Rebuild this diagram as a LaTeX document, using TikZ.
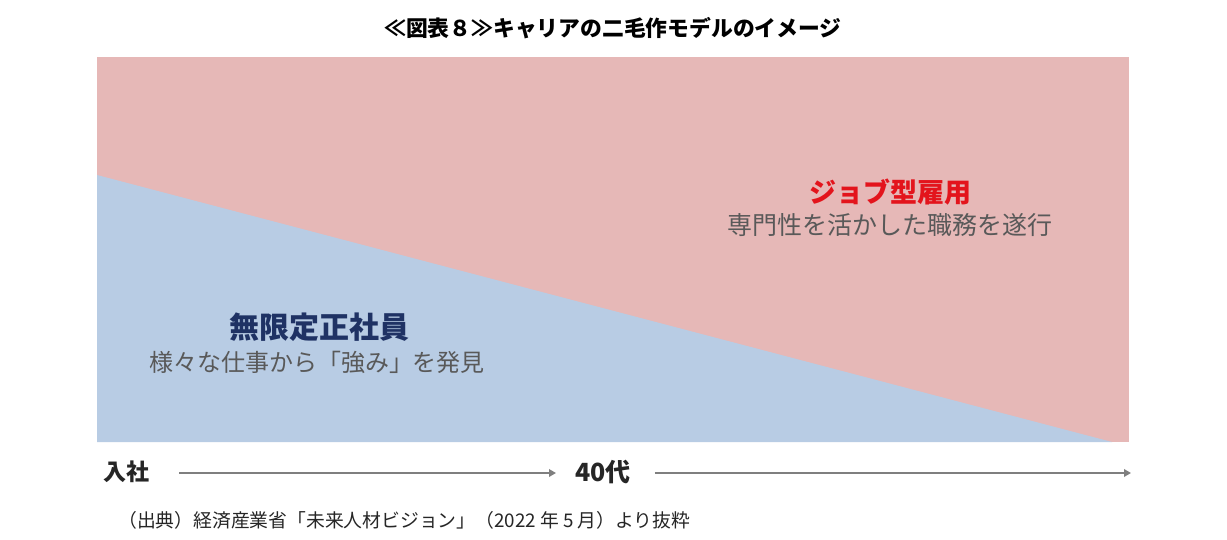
\documentclass[tikz,border=0pt]{standalone}
\usepackage{fontspec}
\setmainfont{Noto Sans CJK JP}
\usetikzlibrary{arrows.meta}
\definecolor{pinkbg}{HTML}{E6B8B7}
\definecolor{bluebg}{HTML}{B8CCE4}
\definecolor{jobred}{HTML}{E3141C}
\definecolor{navy}{HTML}{1F3264}
\definecolor{subgray}{HTML}{595959}
\definecolor{axgray}{HTML}{7F7F7F}
\tikzset{
  lbl/.style={inner sep=0pt, anchor=center},
  axlbl/.style={inner sep=0pt, font=\fontsize{23}{27}\selectfont\bfseries, text=black!85},
  axarrow/.style={draw=axgray, line width=2.8pt, -{Triangle[length=7pt,width=7.5pt]}}
}
\begin{document}
\begin{tikzpicture}[x=1pt,y=-1pt]
\useasboundingbox (0,0) rectangle (1227,540);
\fill[white] (0,0) rectangle (1227,540);
\node[lbl, font=\fontsize{21.8}{26}\selectfont\bfseries] (title) at (613,28) {≪図表８≫キャリアの二毛作モデルのイメージ};
\fill[pinkbg] (97,57) rectangle (1129,442);
\fill[bluebg] (97,175) -- (1112,442) -- (97,442) -- cycle;
\node[lbl, font=\fontsize{27}{30}\selectfont\bfseries, text=jobred] (job) at (890,192) {ジョブ型雇用};
\node[lbl, font=\fontsize{25}{28}\selectfont, text=subgray] (jobsub) at (890,225) {専門性を活かした職務を遂行};
\node[lbl, font=\fontsize{30}{33}\selectfont\bfseries, text=navy] (mugen) at (319,327) {無限定正社員};
\node[lbl, font=\fontsize{24}{27}\selectfont, text=subgray] (mugensub) at (317,362) {様々な仕事から「強み」を発見};
\node[axlbl, anchor=west] (nyusha) at (103,472) {入社};
\node[axlbl, anchor=west, font=\fontsize{25}{29}\selectfont\bfseries] (forty) at (575,472) {40代};
\coordinate (axend) at (1131,473);
\draw[axarrow] ([xshift=30pt,yshift=-1pt]nyusha.east) -- ([xshift=-19pt,yshift=-1pt]forty.west);
\draw[axarrow] ([xshift=24pt]forty.east |- axend) -- (axend);
\node[lbl, anchor=west, font=\fontsize{18.8}{22}\selectfont, text=black!85] (src) at (118,520) {（出典）経済産業省「未来人材ビジョン」（2022 年 5 月）より抜粋};
\end{tikzpicture}
\end{document}
